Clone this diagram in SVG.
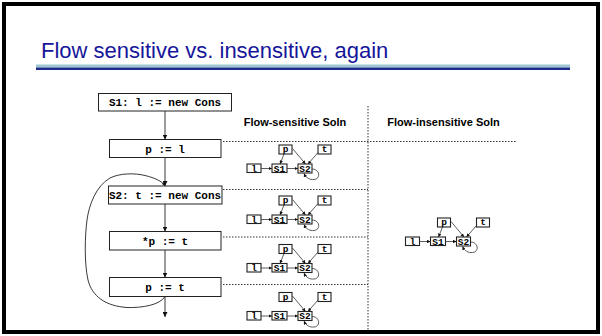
<svg xmlns="http://www.w3.org/2000/svg" width="602" height="336" viewBox="0 0 602 336">
  <style>
    .title { font-family: "Liberation Sans", Arial, sans-serif; font-size: 22px; fill: #16169a; }
    .head { font-family: "Liberation Sans", Arial, sans-serif; font-size: 11px; font-weight: bold; fill: #000; text-anchor: middle; }
    .stmt rect { fill: #fff; stroke: #222; stroke-width: 1; }
    .stmt text { font-family: "Liberation Mono", "Courier New", monospace; font-size: 11px; font-weight: bold; fill: #000; text-anchor: middle; }
    .flow { fill: none; stroke: #222; stroke-width: 0.9; }
    .sep { fill: none; stroke: #333; stroke-width: 1; stroke-dasharray: 1.5 1.5; }
    .pt rect { fill: #fff; stroke: #222; stroke-width: 1.1; }
    .pt text { font-family: "Liberation Mono", "Courier New", monospace; font-size: 9.5px; font-weight: bold; fill: #000; text-anchor: middle; }
    .edge { fill: none; stroke: #333; stroke-width: 0.8; }
  </style>
  <defs>
    <marker id="tip" viewBox="0 0 6 6" refX="6" refY="3" markerWidth="5" markerHeight="5" markerUnits="userSpaceOnUse" orient="auto">
      <path d="M0,0 L6,3 L0,6 Z" fill="#111"/>
    </marker>
    <marker id="tipS" viewBox="0 0 6 6" refX="6" refY="3" markerWidth="3.5" markerHeight="3.5" markerUnits="userSpaceOnUse" orient="auto">
      <path d="M0,0 L6,3 L0,6 Z" fill="#111"/>
    </marker>
  </defs>

  <!-- slide frame -->
  <rect x="0" y="0" width="602" height="336" fill="#fff"/>
  <rect x="4" y="4" width="594" height="328" fill="none" stroke="#000" stroke-width="4"/>

  <!-- title and rule -->
  <text class="title" x="41" y="58">Flow sensitive vs. insensitive, again</text>
  <rect x="36" y="64.5" width="534" height="3" fill="#9cc8d0"/>
  <rect x="36" y="67.5" width="534" height="2.5" fill="#1e2a8c"/>

  <!-- column headers -->
  <text class="head" x="295" y="126">Flow-sensitive Soln</text>
  <text class="head" x="443.5" y="126">Flow-insensitive Soln</text>

  <!-- separators -->
  <g id="separators">
    <line class="sep" x1="368" y1="106" x2="368" y2="331"/>
    <line class="sep" x1="223" y1="141.5" x2="516" y2="141.5"/>
    <line class="sep" x1="223" y1="189.5" x2="368" y2="189.5"/>
    <line class="sep" x1="223" y1="237" x2="368" y2="237"/>
    <line class="sep" x1="223" y1="284.5" x2="368" y2="284.5"/>
  </g>

  <!-- control-flow statements -->
  <g id="s1" class="stmt">
    <rect x="98.5" y="93.5" width="133" height="17.5"/>
    <text x="165" y="106">S1: l := new Cons</text>
  </g>
  <g id="p_eq_l" class="stmt">
    <rect x="109.5" y="139.5" width="111.5" height="18"/>
    <text x="165" y="152.5">p := l</text>
  </g>
  <g id="s2" class="stmt">
    <rect x="108.5" y="186" width="113.5" height="18"/>
    <text x="165" y="198.5">S2: t := new Cons</text>
  </g>
  <g id="store_p" class="stmt">
    <rect x="109.5" y="231.5" width="111.5" height="18.5"/>
    <text x="165" y="244.5">*p := t</text>
  </g>
  <g id="p_eq_t" class="stmt">
    <rect x="109.5" y="277.5" width="111.5" height="19"/>
    <text x="165" y="290.5">p := t</text>
  </g>

  <!-- control-flow edges -->
  <g id="cfg-edges">
    <path class="flow" d="M165,111 L165,139.5" marker-end="url(#tip)"/>
    <path class="flow" d="M165,157.5 L165,186" marker-end="url(#tip)"/>
    <path class="flow" d="M165,204 L165,231.5" marker-end="url(#tip)"/>
    <path class="flow" d="M165,250 L165,277.5" marker-end="url(#tip)"/>
    <path class="flow" d="M165,296.5 L165,317" marker-end="url(#tip)"/>
    <path class="flow" d="M165,296.5 C160,305 142,308 127,307.5 C105,306 92,296 88,280 C84,262 85,235 87,220 C89,205 96,186 110,178 C120,173 135,173 145,175.5 C155,178 162,181 165,186" marker-end="url(#tipS)"/>
  </g>

  <!-- points-to graph after p := l -->
  <g id="graph-1" class="pt">
    <rect x="247" y="164" width="14" height="8.5"/><text x="254" y="171.5">l</text>
    <rect x="272" y="164" width="15" height="8.5"/><text x="279.5" y="171.5">S1</text>
    <rect x="298" y="164" width="14" height="9"/><text x="305" y="171.5">S2</text>
    <rect x="279" y="145" width="13" height="9"/><text x="285.5" y="152">p</text>
    <rect x="318" y="145" width="13" height="9"/><text x="324.5" y="152">t</text>
    <path class="edge" d="M261,168.5 L272,168.5" marker-end="url(#tipS)"/>
    <path class="edge" d="M287,168.5 L298,168.5" marker-end="url(#tipS)"/>
    <path class="edge" d="M284,154 L280,164" marker-end="url(#tipS)"/>
    <path class="edge" d="M292.5,148.5 L305.5,164" marker-end="url(#tipS)"/>
    <path class="edge" d="M318,152.5 L308,164" marker-end="url(#tipS)"/>
    <path class="edge" d="M312,169 C320,169 321,179 314,179.5 C310,180 306,178 304,173.5" marker-end="url(#tipS)"/>
  </g>

  <!-- points-to graph after S2 -->
  <g id="graph-2" class="pt" transform="translate(0,51)">
    <rect x="247" y="164" width="14" height="8.5"/><text x="254" y="171.5">l</text>
    <rect x="272" y="164" width="15" height="8.5"/><text x="279.5" y="171.5">S1</text>
    <rect x="298" y="164" width="14" height="9"/><text x="305" y="171.5">S2</text>
    <rect x="279" y="145" width="13" height="9"/><text x="285.5" y="152">p</text>
    <rect x="318" y="145" width="13" height="9"/><text x="324.5" y="152">t</text>
    <path class="edge" d="M261,168.5 L272,168.5" marker-end="url(#tipS)"/>
    <path class="edge" d="M287,168.5 L298,168.5" marker-end="url(#tipS)"/>
    <path class="edge" d="M284,154 L280,164" marker-end="url(#tipS)"/>
    <path class="edge" d="M292.5,148.5 L305.5,164" marker-end="url(#tipS)"/>
    <path class="edge" d="M318,152.5 L308,164" marker-end="url(#tipS)"/>
    <path class="edge" d="M312,169 C320,169 321,179 314,179.5 C310,180 306,178 304,173.5" marker-end="url(#tipS)"/>
  </g>

  <!-- points-to graph after *p := t -->
  <g id="graph-3" class="pt" transform="translate(0,99.5)">
    <rect x="247" y="164" width="14" height="8.5"/><text x="254" y="171.5">l</text>
    <rect x="272" y="164" width="15" height="8.5"/><text x="279.5" y="171.5">S1</text>
    <rect x="298" y="164" width="14" height="9"/><text x="305" y="171.5">S2</text>
    <rect x="279" y="145" width="13" height="9"/><text x="285.5" y="152">p</text>
    <rect x="318" y="145" width="13" height="9"/><text x="324.5" y="152">t</text>
    <path class="edge" d="M261,168.5 L272,168.5" marker-end="url(#tipS)"/>
    <path class="edge" d="M287,168.5 L298,168.5" marker-end="url(#tipS)"/>
    <path class="edge" d="M284,154 L280,164" marker-end="url(#tipS)"/>
    <path class="edge" d="M292.5,148.5 L305.5,164" marker-end="url(#tipS)"/>
    <path class="edge" d="M318,152.5 L308,164" marker-end="url(#tipS)"/>
    <path class="edge" d="M312,169 C320,169 321,179 314,179.5 C310,180 306,178 304,173.5" marker-end="url(#tipS)"/>
  </g>

  <!-- points-to graph after p := t -->
  <g id="graph-4" class="pt" transform="translate(0,147.5)">
    <rect x="247" y="164" width="14" height="8.5"/><text x="254" y="171.5">l</text>
    <rect x="272" y="164" width="15" height="8.5"/><text x="279.5" y="171.5">S1</text>
    <rect x="298" y="164" width="14" height="9"/><text x="305" y="171.5">S2</text>
    <rect x="279" y="145" width="13" height="9"/><text x="285.5" y="152">p</text>
    <rect x="318" y="145" width="13" height="9"/><text x="324.5" y="152">t</text>
    <path class="edge" d="M261,168.5 L272,168.5" marker-end="url(#tipS)"/>
    <path class="edge" d="M287,168.5 L298,168.5" marker-end="url(#tipS)"/>
    <path class="edge" d="M292.5,148.5 L305.5,164" marker-end="url(#tipS)"/>
    <path class="edge" d="M318,152.5 L308,164" marker-end="url(#tipS)"/>
    <path class="edge" d="M312,169 C320,169 321,179 314,179.5 C310,180 306,178 304,173.5" marker-end="url(#tipS)"/>
  </g>

  <!-- flow-insensitive points-to graph -->
  <g id="graph-fi" class="pt" transform="translate(158.5,73)">
    <rect x="247" y="164" width="14" height="8.5"/><text x="254" y="171.5">l</text>
    <rect x="272" y="164" width="15" height="8.5"/><text x="279.5" y="171.5">S1</text>
    <rect x="298" y="164" width="14" height="9"/><text x="305" y="171.5">S2</text>
    <rect x="279" y="145" width="13" height="9"/><text x="285.5" y="152">p</text>
    <rect x="318" y="145" width="13" height="9"/><text x="324.5" y="152">t</text>
    <path class="edge" d="M261,168.5 L272,168.5" marker-end="url(#tipS)"/>
    <path class="edge" d="M287,168.5 L298,168.5" marker-end="url(#tipS)"/>
    <path class="edge" d="M284,154 L280,164" marker-end="url(#tipS)"/>
    <path class="edge" d="M292.5,148.5 L305.5,164" marker-end="url(#tipS)"/>
    <path class="edge" d="M318,152.5 L308,164" marker-end="url(#tipS)"/>
    <path class="edge" d="M312,169 C320,169 321,179 314,179.5 C310,180 306,178 304,173.5" marker-end="url(#tipS)"/>
  </g>
</svg>
